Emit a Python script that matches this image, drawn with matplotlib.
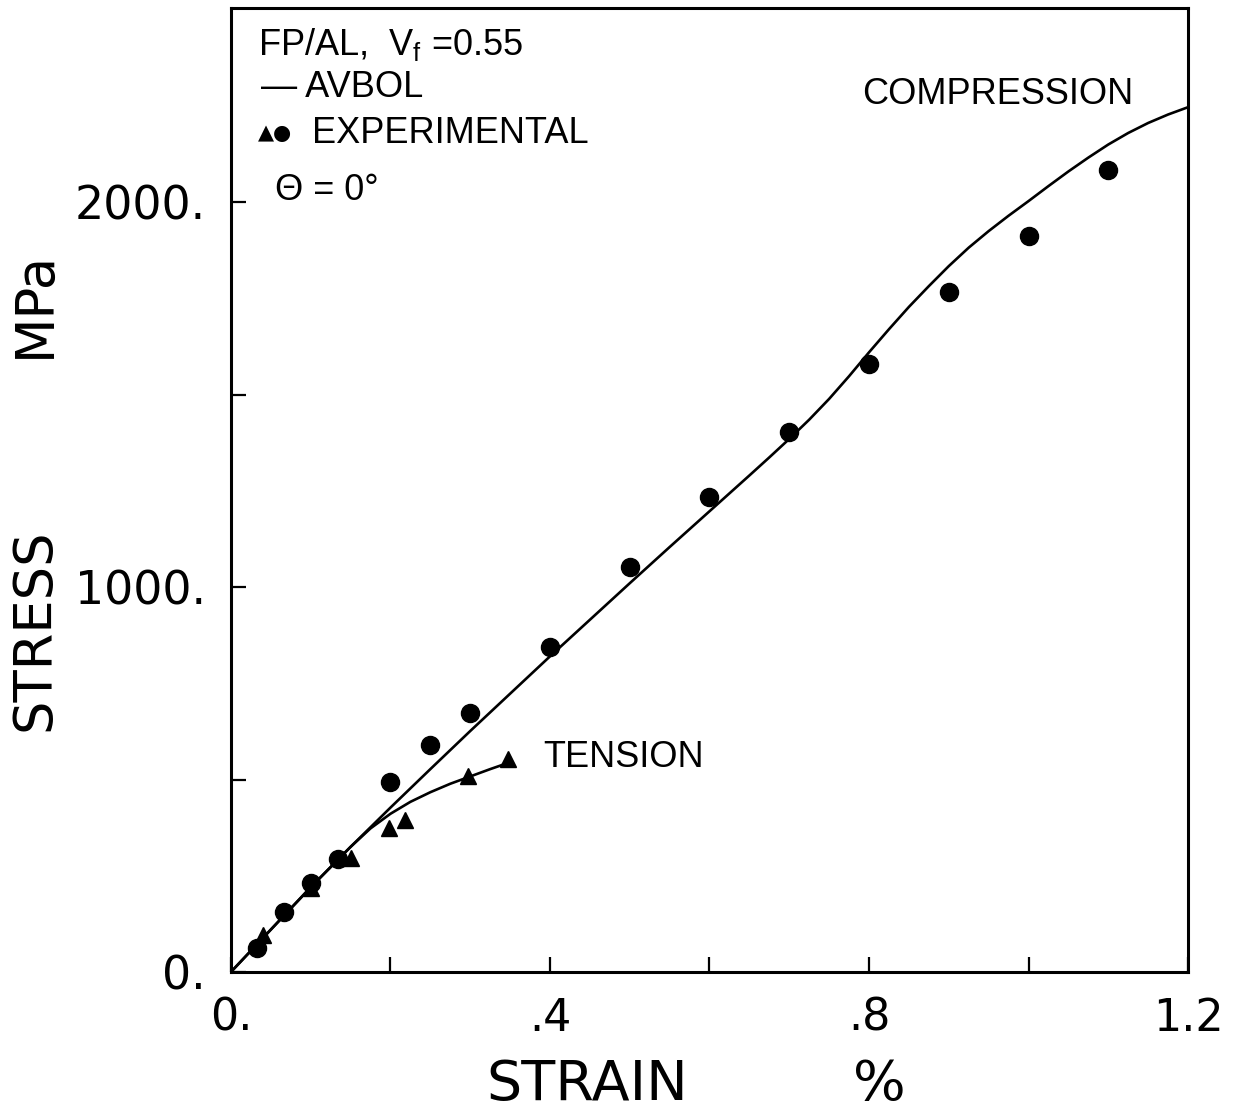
import matplotlib
matplotlib.use("Agg")
import matplotlib.pyplot as plt

# experimental points (strain %, stress MPa)
comp_strain = [0.033, 0.066, 0.10, 0.134, 0.20, 0.25, 0.30, 0.40, 0.50, 0.60, 0.70, 0.80, 0.90, 1.00, 1.10]
comp_stress = [62, 156, 231, 294, 494, 590, 674, 845, 1053, 1235, 1404, 1581, 1766, 1912, 2083]

tens_strain = [0.04, 0.10, 0.15, 0.198, 0.218, 0.297, 0.347]
tens_stress = [96, 218, 296, 374, 395, 508, 553]

# AVBOL prediction curves
avbol_c_strain = [0, 0.05, 0.10, 0.15, 0.20, 0.25, 0.30, 0.35, 0.40, 0.45, 0.50, 0.55, 0.60,
                  0.65, 0.675, 0.70, 0.725, 0.75, 0.775, 0.80, 0.825, 0.85, 0.875, 0.90,
                  0.925, 0.95, 0.975, 1.00, 1.025, 1.05, 1.075, 1.10, 1.125, 1.15, 1.175, 1.20]
avbol_c_stress = [0, 110, 220, 325, 427, 527, 626, 723, 820, 915, 1010, 1104, 1197,
                  1290, 1337, 1385, 1435, 1489, 1548, 1610, 1670, 1728, 1782, 1834,
                  1882, 1925, 1965, 2003, 2042, 2080, 2116, 2150, 2180, 2206, 2228, 2247]

avbol_t_strain = [0, 0.05, 0.10, 0.15, 0.175, 0.20, 0.225, 0.25, 0.275, 0.30, 0.325, 0.35]
avbol_t_stress = [0, 110, 220, 325, 373, 411, 442, 467, 489, 508, 527, 545]

x_major = [0, 0.4, 0.8, 1.2]
x_labels = ["0.", ".4", ".8", "1.2"]
x_minor = [0.2, 0.6, 1.0]
y_major = [0, 1000, 2000]
y_labels = ["0.", "1000.", "2000."]
y_minor = [500, 1500]

fig = plt.figure(figsize=(12.37, 11.15), dpi=100)
ax = fig.add_axes([0.1867, 0.1283, 0.7737, 0.8646])

ax.plot(avbol_c_strain, avbol_c_stress, color="black", lw=1.9)
ax.plot(avbol_t_strain, avbol_t_stress, color="black", lw=1.9)
ax.plot(comp_strain, comp_stress, "o", color="black", ms=13, ls="none")
ax.plot(tens_strain, tens_stress, "^", color="black", ms=11, ls="none")

ax.set_xlim(0, 1.2)
ax.set_ylim(0, 2505)

ax.set_xticks(x_major)
ax.set_xticklabels(x_labels)
ax.set_xticks(x_minor, minor=True)
ax.set_yticks(y_major)
ax.set_yticklabels(y_labels)
ax.set_yticks(y_minor, minor=True)

ax.tick_params(axis="both", which="both", direction="in", length=11, width=1.6,
               top=False, right=False)
ax.tick_params(axis="x", which="major", labelsize=32, pad=18)
ax.tick_params(axis="y", which="major", labelsize=33, pad=18)
for lab in ax.get_xticklabels() + ax.get_yticklabels():
    lab.set_family("DejaVu Sans")
for s in ax.spines.values():
    s.set_linewidth(2.2)

# axis titles, set apart like the original
ax.text(0.372, -0.117, "STRAIN", transform=ax.transAxes, fontsize=40,
        ha="center", va="center", family="DejaVu Sans")
ax.text(0.677, -0.117, "%", transform=ax.transAxes, fontsize=40,
        ha="center", va="center", family="DejaVu Sans")
ax.text(-0.205, 0.355, "STRESS", transform=ax.transAxes, fontsize=38,
        ha="center", va="center", rotation=90, family="DejaVu Sans")
ax.text(-0.205, 0.692, "MPa", transform=ax.transAxes, fontsize=38,
        ha="center", va="center", rotation=90, family="DejaVu Sans")

fam = ["Liberation Sans", "DejaVu Sans"]
ax.text(0.028, 0.962, r"FP/AL,  V$_\mathregular{f}$ =0.55", transform=ax.transAxes,
        fontsize=26, ha="left", va="center", family=fam)
ax.text(0.031, 0.917, "\u2014 AVBOL", transform=ax.transAxes,
        fontsize=26, ha="left", va="center", family=fam)
ax.text(0.028, 0.870, "\u25B2\u25CF", transform=ax.transAxes,
        fontsize=15, ha="left", va="center", family=["DejaVu Sans"])
ax.text(0.085, 0.870, "EXPERIMENTAL", transform=ax.transAxes,
        fontsize=26, ha="left", va="center", family=fam)
ax.text(0.046, 0.811, "\u0398 = 0\u00B0", transform=ax.transAxes,
        fontsize=26, ha="left", va="center", family=fam)

ax.text(0.659, 0.910, "COMPRESSION", transform=ax.transAxes,
        fontsize=26, ha="left", va="center", family=fam)
ax.text(0.326, 0.222, "TENSION", transform=ax.transAxes,
        fontsize=26, ha="left", va="center", family=fam)

fig.savefig("out.png", dpi=100)
